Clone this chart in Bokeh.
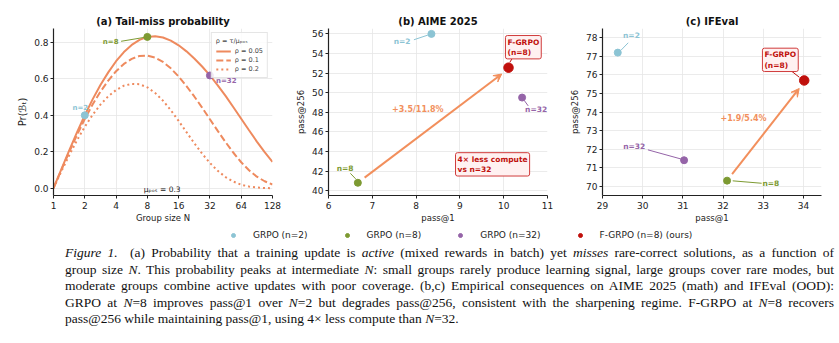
from bokeh.plotting import figure
from bokeh.models import (ColumnDataSource, FixedTicker, Legend, LegendItem, Arrow, VeeHead,
                          Div, Range1d, NumeralTickFormatter)
from bokeh.layouts import row, column
from bokeh.embed import file_html
from bokeh.resources import INLINE
from bokeh.core.properties import value

# ---------------- data ----------------
# (a) tail-miss probability vs group size N
group_size = [1, 1.189, 1.414, 1.682, 2, 2.378, 2.828, 3.364, 4, 4.757, 5.657, 6.727, 8, 9.514,
              11.31, 13.45, 16, 19.03, 22.63, 26.91, 32, 38.05, 45.25, 53.82, 64, 76.11, 90.51, 107.6, 128]
pr_rho005 = [0.000, 0.103, 0.206, 0.305, 0.399, 0.486, 0.565, 0.634, 0.695, 0.745, 0.784, 0.812, 0.828,
             0.832, 0.825, 0.808, 0.782, 0.749, 0.710, 0.666, 0.617, 0.563, 0.505, 0.443, 0.380, 0.317,
             0.255, 0.197, 0.144]
pr_rho01 = [0.000, 0.099, 0.197, 0.291, 0.378, 0.458, 0.528, 0.589, 0.640, 0.680, 0.708, 0.724, 0.726,
            0.715, 0.691, 0.656, 0.611, 0.559, 0.502, 0.441, 0.377, 0.314, 0.252, 0.194, 0.142, 0.098,
            0.063, 0.038, 0.020]
pr_rho02 = [0.000, 0.092, 0.179, 0.262, 0.336, 0.401, 0.457, 0.503, 0.537, 0.561, 0.571, 0.569, 0.552,
            0.521, 0.479, 0.427, 0.368, 0.307, 0.246, 0.189, 0.138, 0.095, 0.061, 0.036, 0.019, 0.009,
            0.004, 0.001, 0.000]
marked_n = [2, 8, 32]
marked_pr = [0.399, 0.828, 0.617]
marked_labels = ["n=2", "n=8", "n=32"]
rho_labels = ["ρ = 0.05", "ρ = 0.1", "ρ = 0.2"]
x_ticks_a = [1, 2, 4, 8, 16, 32, 64, 128]
y_ticks_a = [0.0, 0.2, 0.4, 0.6, 0.8]

# (b,c) empirical results
methods = ["GRPO (n=2)", "GRPO (n=8)", "GRPO (n=32)", "F-GRPO (n=8) (ours)"]
short_labels = ["n=2", "n=8", "n=32", "F-GRPO\n(n=8)"]
aime_pass1 = [8.35, 6.67, 10.42, 10.11]
aime_pass256 = [56.0, 40.8, 49.5, 52.55]
ifeval_pass1 = [29.38, 32.10, 31.03, 34.02]
ifeval_pass256 = [77.2, 70.3, 71.4, 75.7]
aime_gain = "+3.5/11.8%"
ifeval_gain = "+1.9/5.4%"
compute_note = "4× less compute\nvs n=32"
x_ticks_b = [6, 7, 8, 9, 10, 11]
y_ticks_b = [40, 42, 44, 46, 48, 50, 52, 54, 56]
x_ticks_c = [29, 30, 31, 32, 33, 34]
y_ticks_c = [70, 71, 72, 73, 74, 75, 76, 77, 78]

# ---------------- style ----------------
FONT = "DejaVu Sans"
C2, C8, C32, CF = "#8cc4d4", "#7d9a32", "#9564a8", "#c0100c"
POINT_COLORS = [C2, C8, C32, CF]
ORANGE = "#ee8a5e"
ARROW = "#f28f5c"
BOX_FILL, BOX_LINE = "#fff1f1", "#d03a3a"


def style(p, xlabel, ylabel, xticks, yticks):
    p.title.align = "center"
    p.title.text_font = FONT
    p.title.text_font_size = "10px"
    p.title.text_font_style = "bold"
    p.title.text_color = "#111111"
    p.title.standoff = 4
    p.outline_line_color = None
    p.xaxis.ticker = FixedTicker(ticks=xticks)
    p.yaxis.ticker = FixedTicker(ticks=yticks)
    for ax in (p.xaxis[0], p.yaxis[0]):
        ax.axis_line_color = "#222222"
        ax.axis_line_width = 1.2
        ax.major_tick_line_color = "#222222"
        ax.major_tick_out = 3
        ax.major_tick_in = 0
        ax.minor_tick_line_color = None
        ax.major_label_text_font = FONT
        ax.major_label_text_font_size = "9px"
        ax.major_label_text_color = "#222222"
        ax.axis_label_text_font = FONT
        ax.axis_label_text_font_size = "8.5px"
        ax.axis_label_text_font_style = "normal"
        ax.axis_label_text_color = "#222222"
        ax.major_label_standoff = 2
        ax.axis_label_standoff = 0
    p.xaxis.major_label_standoff = 3
    p.xaxis.axis_label_standoff = 1
    p.xaxis.axis_label = xlabel
    p.yaxis.axis_label = ylabel
    p.yaxis.axis_label_standoff = 3
    p.grid.grid_line_color = "#e6e6e6"
    p.grid.grid_line_width = 0.8


def make_fig(title, x_range, y_range, left, right, x_axis_type="linear"):
    return figure(title=title, frame_width=219, frame_height=167, x_range=x_range, y_range=y_range,
                  x_axis_type=x_axis_type, min_border_left=left, min_border_right=right,
                  min_border_top=28, min_border_bottom=28, toolbar_location=None,
                  output_backend="svg", background_fill_color="white", border_fill_color="white")


def add_texts(p, xs, ys, texts, colors, size="7.5px", align="center", boxed=False):
    src = ColumnDataSource(dict(x=xs, y=ys, t=texts, c=colors))
    kw = {}
    if boxed:
        kw = dict(background_fill_color=BOX_FILL, border_line_color=BOX_LINE, border_line_width=1,
                  padding=2, border_radius=2)
    p.text("x", "y", text="t", text_color="c", source=src, text_font=value(FONT),
           text_font_size=value(size), text_font_style="bold", text_align=align,
           text_baseline="middle", text_line_height=1.15, **kw)


# ---------------- (a) ----------------
pa = make_fig("(a) Tail-miss probability", Range1d(1, 128), Range1d(-0.04, 0.874), 53, 11, "log")
style(pa, "Group size N", "Pr(ℬₜ)", x_ticks_a, y_ticks_a)
pa.yaxis.axis_label_text_font_size = "10px"
pa.xaxis.formatter = NumeralTickFormatter(format="0")
pa.yaxis.formatter = NumeralTickFormatter(format="0.0")
ra1 = pa.line(group_size, pr_rho005, color=ORANGE, line_width=2)
ra2 = pa.line(group_size, pr_rho01, color=ORANGE, line_width=2, line_dash="7 3")
ra3 = pa.line(group_size, pr_rho02, color=ORANGE, line_width=2, line_dash="2 3")
pa.segment(x0=[4.47], y0=[0.804], x1=[7.6], y1=[0.826], color=C8, line_width=1)
pa.scatter(marked_n, marked_pr, size=7, color=POINT_COLORS[:3])
add_texts(pa, [1.81, 3.55, 46.0], [0.44, 0.80, 0.587], marked_labels, POINT_COLORS[:3], size="7px")
pa.text([11.1], [-0.008], text=["μₚₒₛ = 0.3"], text_font=value(FONT), text_font_size=value("7.5px"),
        text_align="center", text_baseline="middle", text_color="#222222")
leg_a = Legend(items=[LegendItem(label=rho_labels[0], renderers=[ra1]),
                      LegendItem(label=rho_labels[1], renderers=[ra2]),
                      LegendItem(label=rho_labels[2], renderers=[ra3])],
               title="ρ = τ/μₚₒₛ", location="top_right")
leg_a.label_text_font = FONT
leg_a.label_text_font_size = "6.5px"
leg_a.title_text_font = FONT
leg_a.title_text_font_size = "6.5px"
leg_a.title_text_font_style = "normal"
leg_a.title_standoff = 2
leg_a.glyph_width = 15
leg_a.glyph_height = 8
leg_a.label_height = 8
leg_a.label_standoff = 4
leg_a.spacing = 1
leg_a.padding = 4
leg_a.margin = 4
leg_a.border_line_color = "#cccccc"
leg_a.background_fill_alpha = 0.85
pa.add_layout(leg_a)

# ---------------- (b) ----------------
pb = make_fig("(b) AIME 2025", Range1d(6, 11), Range1d(39.5, 56.55), 45, 8)
style(pb, "pass@1", "pass@256", x_ticks_b, y_ticks_b)
pb.add_layout(Arrow(end=VeeHead(size=8, line_color=ARROW, fill_color=ARROW, line_width=1),
                    x_start=aime_pass1[1] + 0.045 * (aime_pass1[3] - aime_pass1[1]),
                    y_start=aime_pass256[1] + 0.045 * (aime_pass256[3] - aime_pass256[1]),
                    x_end=aime_pass1[1] + 0.955 * (aime_pass1[3] - aime_pass1[1]),
                    y_end=aime_pass256[1] + 0.945 * (aime_pass256[3] - aime_pass256[1]),
                    line_color=ARROW, line_width=2))
pb.segment(x0=[7.95, 6.50, 10.47, 10.21], y0=[55.4, 41.76, 49.2, 53.6],
           x1=[8.27, 6.62, 10.56, 10.14], y1=[55.88, 41.2, 48.65, 53.1], color=POINT_COLORS, line_width=1)
pb.scatter(aime_pass1, aime_pass256, size=[7, 7, 7, 9.5], color=POINT_COLORS)
add_texts(pb, [7.68, 6.38, 10.74], [55.25, 42.27, 48.27], short_labels[:3], POINT_COLORS[:3])
add_texts(pb, [10.04], [54.64], [short_labels[3]], [CF], align="left", boxed=True)
add_texts(pb, [8.9], [42.68], [compute_note], [CF], align="left", boxed=True)
add_texts(pb, [8.04], [48.27], [aime_gain], [ARROW], size="8px")

# ---------------- (c) ----------------
pc = make_fig("(c) IFEval", Range1d(29, 34.45), Range1d(69.5, 78.5), 47, 18)
style(pc, "pass@1", "pass@256", x_ticks_c, y_ticks_c)
pc.add_layout(Arrow(end=VeeHead(size=8, line_color=ARROW, fill_color=ARROW, line_width=1),
                    x_start=ifeval_pass1[1] + 0.065 * (ifeval_pass1[3] - ifeval_pass1[1]),
                    y_start=ifeval_pass256[1] + 0.065 * (ifeval_pass256[3] - ifeval_pass256[1]),
                    x_end=ifeval_pass1[1] + 0.935 * (ifeval_pass1[3] - ifeval_pass1[1]),
                    y_end=ifeval_pass256[1] + 0.92 * (ifeval_pass256[3] - ifeval_pass256[1]),
                    line_color=ARROW, line_width=2))
pc.segment(x0=[29.64, 32.24, 30.13, 33.67], y0=[77.73, 70.29, 71.96, 76.26],
           x1=[29.46, 32.96, 30.95, 33.9], y1=[77.33, 70.16, 71.47, 75.87], color=POINT_COLORS, line_width=1)
pc.scatter(ifeval_pass1, ifeval_pass256, size=[7, 7, 7, 9.5], color=POINT_COLORS)
add_texts(pc, [29.72, 33.19, 29.79], [78.14, 70.16, 72.13], short_labels[:3], POINT_COLORS[:3])
add_texts(pc, [32.98], [76.81], [short_labels[3]], [CF], align="left", boxed=True)
add_texts(pc, [32.51], [73.66], [ifeval_gain], [ARROW], size="8px")

# ---------------- shared legend ----------------
pl = figure(width=839, height=16, x_range=(0, 1), y_range=(0, 1), toolbar_location=None,
            output_backend="svg", x_axis_location=None, y_axis_location=None, min_border=0,
            outline_line_color=None)
pl.grid.visible = False
leg_items = []
for m, col in zip(methods, POINT_COLORS):
    # proxy renderers (kept outside the visible range) so the legend can draw its dots
    r = pl.scatter(x=[-5], y=[-5], size=5.5, color=col)
    leg_items.append(LegendItem(label=m, renderers=[r]))
leg = Legend(items=leg_items, orientation="horizontal", location=(228, 0), padding=0, margin=0,
             spacing=34, label_standoff=15, glyph_width=10, glyph_height=12, label_height=12,
             border_line_color=None, background_fill_alpha=0)
leg.label_text_font = FONT
leg.label_text_font_size = "9px"
leg.label_text_color = "#222222"
pl.add_layout(leg)

# ---------------- caption ----------------
cap_lines = [
    "<i>Figure 1.</i>&nbsp; (a) Probability that a training update is <i>active</i> (mixed rewards in batch) yet <i>misses</i> rare-correct solutions, as a function of",
    "group size <i>N</i>. This probability peaks at intermediate <i>N</i>: small groups rarely produce learning signal, large groups cover rare modes, but",
    "moderate groups combine active updates with poor coverage. (b,c) Empirical consequences on AIME 2025 (math) and IFEval (OOD):",
    "GRPO at <i>N</i>=8 improves pass@1 over <i>N</i>=2 but degrades pass@256, consistent with the sharpening regime. F-GRPO at <i>N</i>=8 recovers",
    "pass@256 while maintaining pass@1, using 4× less compute than <i>N</i>=32.",
]
html = "<div style=\"font-family:'Liberation Serif',serif;font-size:13.5px;line-height:16.5px;color:#111;" \
       "width:769px;margin-left:60px;margin-top:-1px;\">"
for i, ln in enumerate(cap_lines):
    last = "justify" if i < len(cap_lines) - 1 else "left"
    html += f"<div style=\"text-align:justify;text-align-last:{last};white-space:nowrap;\">{ln}</div>"
html += "</div>"
cap = Div(text=html, width=839, height=104)

layout = column(row(pa, pb, pc), pl, cap)
open("out.html", "w").write(file_html(layout, INLINE))
